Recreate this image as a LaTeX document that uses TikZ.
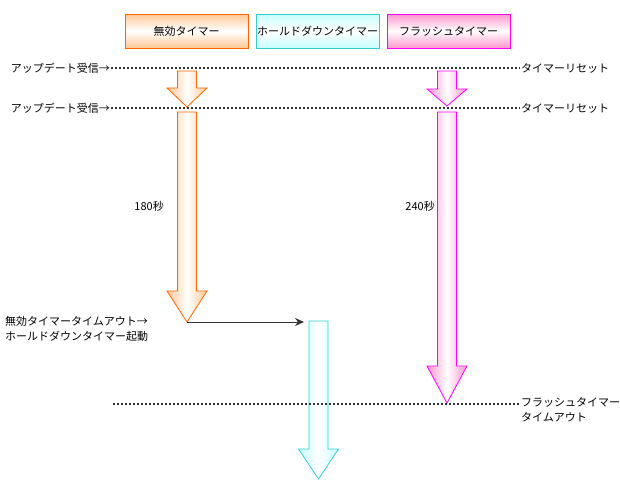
\documentclass[tikz,border=0pt]{standalone}
\usepackage{fontspec}
\setmainfont{Noto Sans CJK JP}
\usetikzlibrary{arrows.meta}

\definecolor{nullline}{RGB}{255,102,0}
\definecolor{nullfill}{RGB}{255,200,150}
\definecolor{holdline}{RGB}{51,204,204}
\definecolor{holdfill}{RGB}{200,255,255}
\definecolor{flashline}{RGB}{255,0,255}
\definecolor{flashfill}{RGB}{255,150,205}

\tikzset{
  timerbox/.style={draw=#1line, line width=1pt, top color=#1fill, bottom color=#1fill,
    middle color=white, minimum width=123pt, minimum height=34pt, inner sep=0pt,
    font=\fontsize{11}{15}\selectfont},
  lbl/.style={font=\fontsize{11}{15}\selectfont, inner sep=1pt, align=left},
  dotline/.style={line width=1.8pt, dash pattern=on 1.8pt off 2.2pt, black!80},
  conn/.style={-{Stealth[length=9pt,width=8pt]}, line width=0.8pt, black!80}
}

% block arrow: name, colour, centre x, top y, head start y, tip y
\newcommand{\timerarrow}[6]{%
  \draw[draw=#2line, line width=0.8pt, left color=#2fill, right color=#2fill, middle color=white]
    (#3-9.5,#4) -- (#3+9.5,#4) -- (#3+9.5,#5) -- (#3+20,#5) -- (#3,#6)
    -- (#3-20,#5) -- (#3-9.5,#5) -- cycle;
  \coordinate (#1-tip) at (#3,#6);
  \coordinate (#1-top) at (#3-9.5,#4);
}

\begin{document}
\begin{tikzpicture}[x=1pt, y=-1pt]
  \useasboundingbox[fill=white] (0,0) rectangle (620,488);
  % Timers
  \node[timerbox=null] (nullbox) at (186.5,31) {無効タイマー};
  \node[timerbox=hold] (holdbox) at (317.5,31) {ホールドダウンタイマー};
  \node[timerbox=flash] (flashbox) at (448.5,31) {フラッシュタイマー};
  % Running timers
  \timerarrow{nullA}{null}{187}{71}{88}{107}
  \timerarrow{nullB}{null}{187}{112}{291}{322}
  \timerarrow{flashA}{flash}{447}{71}{89}{106}
  \timerarrow{flashB}{flash}{447}{112}{366}{403}
  \timerarrow{holdA}{hold}{318.5}{321}{449}{479}
  \node[lbl, anchor=east] (t180) at (165,206) {180秒};
  \node[lbl, anchor=east] (t240) at (436,206) {240秒};
  % Updates
  \node[lbl, anchor=east] (upd1) at (111,68) {アップデート受信→};
  \node[lbl, anchor=west] (rst1) at (520,68) {タイマーリセット};
  \draw[dotline] (upd1.east) -- (rst1.west);
  \node[lbl, anchor=east] (upd2) at (111,108) {アップデート受信→};
  \node[lbl, anchor=west] (rst2) at (520,108) {タイマーリセット};
  \draw[dotline] (upd2.east) -- (rst2.west);
  % Timeouts
  \node[lbl, anchor=north west] (nullout) at (4,315) {無効タイマータイムアウト→\\ホールドダウンタイマー起動};
  \draw[conn, shorten >=5pt] (nullB-tip) -- (nullB-tip -| holdA-top);
  \node[lbl, anchor=north west] (flashout) at (520,396) {フラッシュタイマー\\タイムアウト};
  \coordinate (outL) at (113,404);
  \draw[dotline] (outL) -- (outL -| flashout.west);
\end{tikzpicture}
\end{document}
